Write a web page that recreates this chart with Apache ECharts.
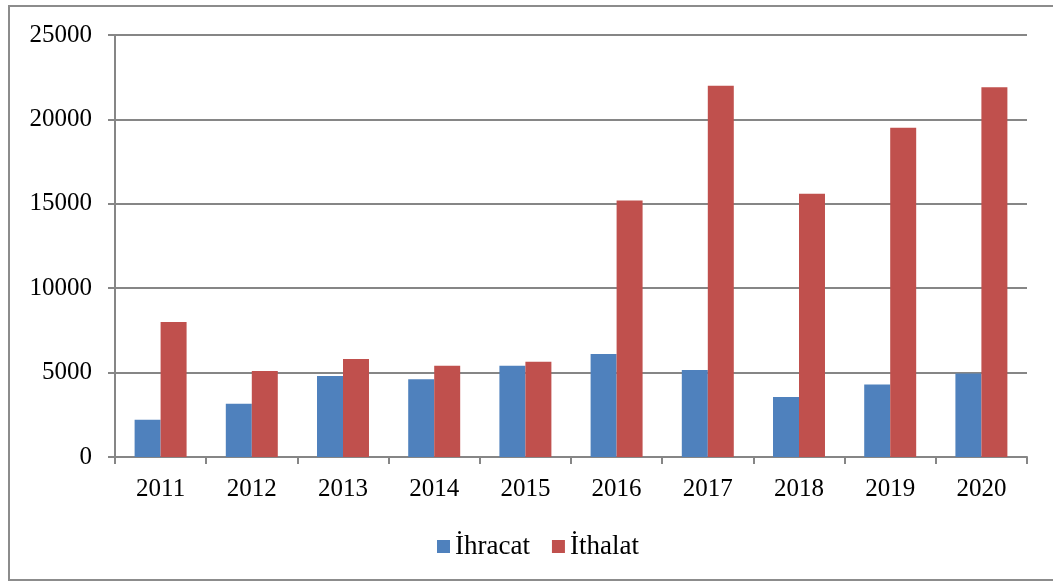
<!DOCTYPE html>
<html>
<head>
<meta charset="utf-8">
<script src="https://cdn.jsdelivr.net/npm/echarts@6/dist/echarts.min.js"></script>
<style>
    html,body{margin:0;padding:0;background:#fff;overflow:hidden;}
    #frame{position:absolute;left:8px;top:5px;width:1060px;height:576px;border:2px solid #8c8c8c;box-sizing:border-box;}
    #chart{position:absolute;left:0;top:0;width:1053px;height:581px;}
</style>
</head>
<body>
<div id="frame"></div>
<div id="chart"></div>
<script>
const years = ['2011','2012','2013','2014','2015','2016','2017','2018','2019','2020'];
const ihracat = [2200, 3150, 4800, 4600, 5400, 6100, 5150, 3550, 4300, 4950];
const ithalat = [8000, 5100, 5800, 5400, 5650, 15200, 22000, 15600, 19500, 21900];
const yTicks = [0, 5000, 10000, 15000, 20000, 25000];

let chart = echarts.init(document.getElementById('chart'));
const gray = '#868686';
const font = '"Liberation Serif", "Times New Roman", serif';
chart.setOption({
    animation:false,
    color:['#4F81BD','#C0504D'],
    textStyle:{fontFamily:font},
    legend:{
        top:528,
        left:432,
        itemWidth:13,
        itemHeight:13,
        itemGap:22,
        icon:'rect',
        textStyle:{fontSize:27,color:'#000',fontFamily:font},
        data:['İhracat','İthalat']
    },
    grid:{
        left:115,
        right:26,
        top:35,
        bottom:124,
        containLabel:false
    },
    xAxis:{
        type:'category',
        data:years,
        axisLine:{show:true,lineStyle:{color:gray,width:2}},
        axisTick:{show:true,alignWithLabel:false,length:7,lineStyle:{color:gray,width:2}},
        axisLabel:{color:'#000',fontSize:25,margin:20,fontFamily:font},
        splitLine:{show:false}
    },
    yAxis:{
        type:'value',
        min:yTicks[0],
        max:yTicks[yTicks.length-1],
        interval:5000,
        axisLine:{show:true,lineStyle:{color:gray,width:2}},
        axisTick:{show:true,inside:false,length:7,lineStyle:{color:gray,width:2}},
        axisLabel:{color:'#000',fontSize:25,margin:23,fontFamily:font,formatter:function(v){return ''+v;}},
        splitLine:{show:true,lineStyle:{color:gray,width:2}}
    },
    series:[{
        name:'İhracat',
        type:'bar',
        data:ihracat,
        barGap:'0%',
        barCategoryGap:'43%'
    },{
        name:'İthalat',
        type:'bar',
        data:ithalat,
        barGap:'0%',
        barCategoryGap:'43%'
    }]
});
window.addEventListener("resize",function(){
    chart.resize();
});
</script>
</body>
</html>
